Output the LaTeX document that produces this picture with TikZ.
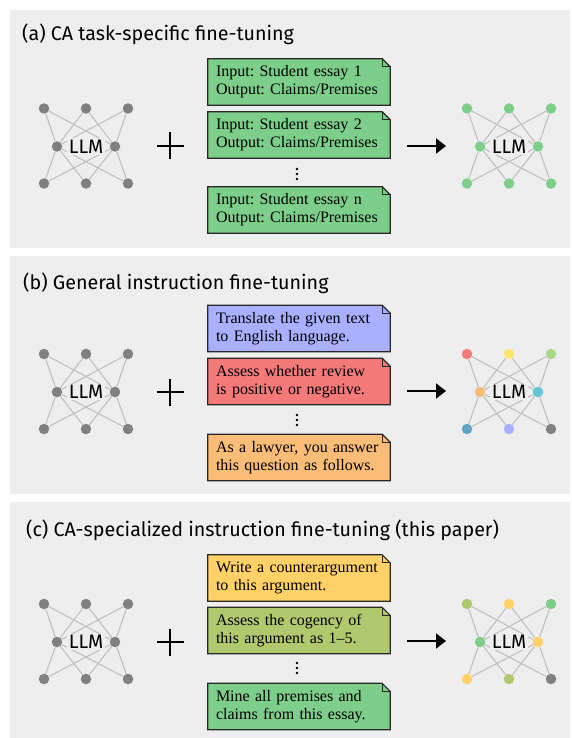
\documentclass[tikz,border=0pt]{standalone}
\usepackage{fontspec}
\setmainfont{Liberation Serif}
\setsansfont{Fira Sans}
\usetikzlibrary{arrows.meta}
\frenchspacing

\definecolor{panelgray}{RGB}{238,238,238}
\definecolor{wiregray}{RGB}{192,192,192}
\definecolor{nodegray}{RGB}{128,128,128}
\definecolor{boxline}{RGB}{40,40,40}
\definecolor{cagreen}{RGB}{125,206,138}
\definecolor{insblue}{RGB}{170,176,255}
\definecolor{insred}{RGB}{244,122,122}
\definecolor{insorange}{RGB}{249,189,120}
\definecolor{insyellow}{RGB}{255,230,110}
\definecolor{inslime}{RGB}{168,216,138}
\definecolor{inscyan}{RGB}{95,200,214}
\definecolor{insteal}{RGB}{95,165,195}
\definecolor{cayellow}{RGB}{255,209,102}
\definecolor{caolive}{RGB}{176,200,110}

\pgfdeclarelayer{bg}
\pgfsetlayers{bg,main}

\tikzset{
  panel/.style={fill=panelgray, draw=none},
  paneltitle/.style={anchor=base west, inner sep=0pt, font=\sffamily\fontsize{19.7}{22}\selectfont},
  neuron/.style={circle, inner sep=0pt, minimum size=10.5pt},
  wire/.style={draw=wiregray, line width=1.1pt},
  llmlabel/.style={fill=panelgray, inner sep=1.5pt, font=\sffamily\fontsize{19.5}{20}\selectfont},
  prompt/.style={minimum width=182pt, minimum height=46pt, inner xsep=8pt, inner ysep=0pt,
    text width=166pt, align=left, font=\fontsize{16}{18}\selectfont},
  notebox/.style={draw=boxline, line width=1.2pt, line join=miter},
  plusline/.style={line width=1.8pt},
  flow/.style={line width=2pt, -{Triangle[length=10pt,width=15pt]}},
}

\newcommand{\llmnet}[4]{%
  \foreach \dx/\dy [count=\i] in {-42/-38,0/-38,42/-38,-29/0,29/0,-42/37,0/37,42/37}
    \coordinate (#1p\i) at ({#2+(\dx)},{#3+(\dy)});
  \foreach \c [count=\i] in {#4}
    \node[neuron, fill=\c] (#1\i) at (#1p\i) {};
  \foreach \s in {1,2,3,6,7,8}
    \foreach \t in {4,5}
      \draw[wire] (#1\s) -- (#1\t);
  \node[llmlabel] (#1llm) at (#2,#3) {LLM};
}

\newcommand{\promptbox}[4]{%
  \node[prompt] (#1) at (299,#2) {#4};
  \begin{pgfonlayer}{bg}
    \draw[notebox, fill=#3] (#1.north west) -- ([xshift=-8pt]#1.north east)
      -- ([yshift=-8pt]#1.north east) -- (#1.south east) -- (#1.south west) -- cycle;
  \end{pgfonlayer}
  \draw[notebox, line width=0.8pt] ([xshift=-8pt]#1.north east) |- ([yshift=-8pt]#1.north east);
}

\newcommand{\plusmark}[1]{%
  \draw[plusline] ([xshift=-13.5pt]#1) -- ([xshift=13.5pt]#1);
  \draw[plusline] ([yshift=-13.5pt]#1) -- ([yshift=13.5pt]#1);
}

\newcommand{\vdotsmark}[1]{%
  \foreach \dy in {-5,0,5}
    \fill ([yshift=\dy pt]#1) circle (1.3pt);
}

\begin{document}
\begin{tikzpicture}[x=1pt, y=-1pt]
\useasboundingbox (0,0) rectangle (572,738);

\begin{pgfonlayer}{bg}
\fill[panel] (10,10) rectangle (570,248);
\fill[panel] (10,256) rectangle (570,494);
\fill[panel] (10,502) rectangle (570,738);
\end{pgfonlayer}

\node[paneltitle] (titleA) at (22,41) {(a) CA task-specific fine-tuning};
\llmnet{a}{86}{146.5}{nodegray,nodegray,nodegray,nodegray,nodegray,nodegray,nodegray,nodegray}
\coordinate (plusA) at (170,146);
\plusmark{plusA}
\promptbox{a1}{82}{cagreen}{Input: Student essay 1\\Output: Claims/Premises}
\promptbox{a2}{135}{cagreen}{Input: Student essay 2\\Output: Claims/Premises}
\coordinate (dotsA) at (297,174);
\vdotsmark{dotsA}
\promptbox{a3}{210}{cagreen}{Input: Student essay n\\Output: Claims/Premises}
\coordinate (fromA) at (407,146);
\coordinate (toA) at (446,146);
\draw[flow] (fromA) -- (toA);
\llmnet{A}{509}{146.5}{cagreen,cagreen,cagreen,cagreen,cagreen,cagreen,cagreen,cagreen}

\node[paneltitle] (titleB) at (23,289) {(b) General instruction fine-tuning};
\llmnet{b}{86}{392}{nodegray,nodegray,nodegray,nodegray,nodegray,nodegray,nodegray,nodegray}
\coordinate (plusB) at (170,392);
\plusmark{plusB}
\promptbox{b1}{328.5}{insblue}{Translate the given text\\to English language.}
\promptbox{b2}{381.5}{insred}{Assess whether review\\is positive or negative.}
\coordinate (dotsB) at (297,420);
\vdotsmark{dotsB}
\promptbox{b3}{457.5}{insorange}{As a lawyer, you answer\\this question as follows.}
\coordinate (fromB) at (407,391);
\coordinate (toB) at (446,391);
\draw[flow] (fromB) -- (toB);
\llmnet{B}{509}{392}{insred,insyellow,inslime,insorange,inscyan,insteal,insblue,nodegray}

\node[paneltitle] (titleC) at (26,536) {(c) CA-specialized instruction fine-tuning (this paper)};
\llmnet{c}{86}{642}{nodegray,nodegray,nodegray,nodegray,nodegray,nodegray,nodegray,nodegray}
\coordinate (plusC) at (170,642);
\plusmark{plusC}
\promptbox{c1}{578}{cayellow}{Write a counterargument\\to this argument.}
\promptbox{c2}{630.5}{caolive}{Assess the cogency of\\this argument as 1--5.}
\coordinate (dotsC) at (297,668);
\vdotsmark{dotsC}
\promptbox{c3}{706.5}{cagreen}{Mine all premises and\\claims from this essay.}
\coordinate (fromC) at (407,641);
\coordinate (toC) at (446,641);
\draw[flow] (fromC) -- (toC);
\llmnet{C}{509}{642}{caolive,cayellow,cagreen,cagreen,cayellow,cayellow,caolive,nodegray}
\end{tikzpicture}
\end{document}
